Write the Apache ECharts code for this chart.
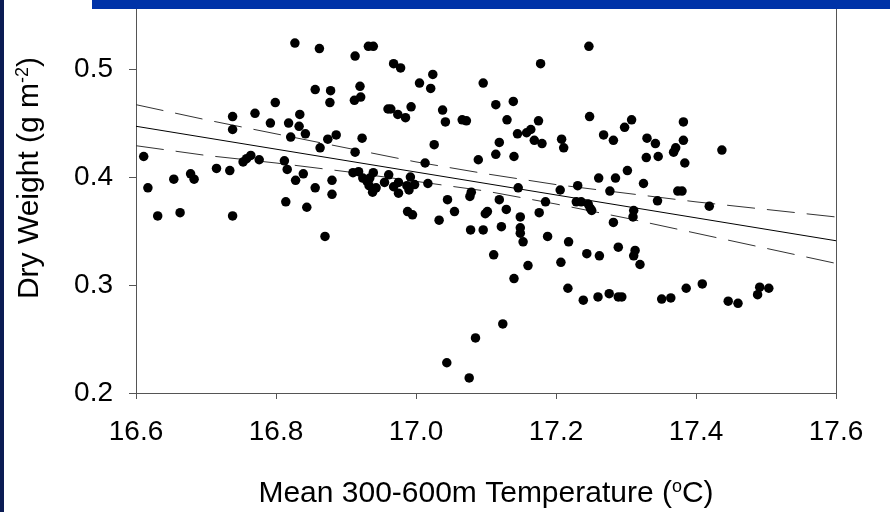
<!DOCTYPE html>
<html><head><meta charset="utf-8">
<script src="https://cdn.jsdelivr.net/npm/echarts@6/dist/echarts.min.js"></script>
<style>html,body{margin:0;padding:0;background:#fff}#c{width:890px;height:512px}</style>
</head><body><div id="c"></div>
<script>
// Scatter data: mean 300-600 m temperature (°C) vs dry weight (g m-2)
const tempC = [
 16.611,16.617,16.631,16.663,16.654,16.678,16.683,16.715,16.734,16.738,16.738,16.738,16.753,16.758,16.764,16.776,16.770,16.792,16.799,16.812,16.816,16.814,16.827,16.818,16.821,16.828,16.833,16.834,16.839,16.842,16.844,16.856,16.862,16.856,16.863,16.874,16.878,16.877,16.886,16.880,16.880,16.870,
 16.913,16.932,16.939,16.968,16.978,17.024,17.005,17.021,16.920,16.912,16.921,16.960,16.964,16.974,16.985,16.993,17.038,17.042,17.066,17.072,17.096,17.114,17.139,17.130,17.178,17.247,17.248,17.175,17.145,17.158,17.164,17.169,17.180,17.208,17.211,16.923,16.913,17.026,17.013,17.089,17.119,17.114,17.140,
 16.910,16.918,16.924,16.930,16.934,16.939,16.933,16.943,16.938,16.955,16.961,16.968,16.975,16.975,16.987,16.990,16.998,16.992,17.017,17.045,17.055,16.988,16.995,17.033,17.077,17.079,17.099,17.102,17.119,17.129,17.146,17.149,17.176,17.185,17.206,17.231,17.229,17.236,17.246,17.249,17.251,17.261,17.078,17.096,17.122,17.149,17.149,17.153,17.111,17.160,17.140,17.188,17.218,17.207,17.244,17.262,17.217,17.239,17.260,17.124,17.085,17.044,17.076,
 17.308,17.298,17.268,17.282,17.382,17.330,17.342,17.368,17.371,17.382,17.329,17.346,17.384,17.437,17.302,17.285,17.325,17.277,17.374,17.380,17.345,17.419,17.311,17.310,17.282,17.289,17.313,17.311,17.320,17.276,17.289,17.294,17.351,17.364,17.386,17.409,17.446,17.460,17.488,17.491,17.504
];
const dryWeight = [
 0.419,0.390,0.364,0.367,0.398,0.403,0.398,0.408,0.406,0.456,0.444,0.364,0.414,0.417,0.420,0.416,0.459,0.450,0.469,0.415,0.407,0.377,0.524,0.450,0.437,0.397,0.447,0.458,0.403,0.440,0.372,0.481,0.519,0.390,0.427,0.435,0.480,0.469,0.439,0.397,0.384,0.345,
 0.512,0.521,0.521,0.505,0.501,0.495,0.487,0.482,0.484,0.471,0.474,0.463,0.463,0.458,0.455,0.465,0.462,0.451,0.453,0.452,0.487,0.467,0.470,0.453,0.505,0.521,0.456,0.452,0.440,0.441,0.444,0.434,0.431,0.435,0.427,0.436,0.423,0.430,0.413,0.416,0.432,0.421,0.419,
 0.404,0.405,0.399,0.396,0.399,0.404,0.392,0.390,0.386,0.395,0.402,0.391,0.395,0.385,0.392,0.388,0.393,0.400,0.394,0.379,0.368,0.368,0.365,0.360,0.382,0.386,0.366,0.368,0.379,0.370,0.390,0.363,0.367,0.377,0.388,0.392,0.377,0.377,0.375,0.371,0.369,0.399,0.351,0.351,0.354,0.353,0.348,0.340,0.328,0.318,0.306,0.345,0.340,0.321,0.329,0.327,0.297,0.286,0.289,0.264,0.251,0.228,0.214,
 0.453,0.446,0.439,0.434,0.451,0.436,0.431,0.423,0.427,0.434,0.418,0.419,0.413,0.425,0.406,0.399,0.394,0.387,0.387,0.387,0.378,0.373,0.369,0.363,0.358,0.335,0.332,0.327,0.319,0.292,0.289,0.289,0.287,0.288,0.297,0.301,0.285,0.283,0.291,0.298,0.297
];
// Regression line and confidence band
const fitX = [16.6, 17.6];
const fitY = [0.447, 0.341];
const bandX = [16.6,16.7,16.8,16.9,17.0,17.1,17.2,17.3,17.4,17.5,17.6];
const upperY = [0.467,0.453,0.440,0.427,0.414,0.403,0.393,0.385,0.377,0.370,0.363];
const lowerY = [0.429,0.420,0.413,0.405,0.396,0.387,0.375,0.362,0.348,0.334,0.320];
// Axis ticks
const xTicks = [16.6,16.8,17.0,17.2,17.4,17.6];
const yTicks = [0.2,0.3,0.4,0.5];

const FONT = '"Liberation Sans", Arial, sans-serif';
const chart = echarts.init(document.getElementById('c'));
const pts = tempC.map((x,i)=>[x, dryWeight[i]]);
const pair = (xs, ys) => xs.map((x,i)=>[x, ys[i]]);
const axisCol = '#555';
chart.setOption({
  animation:false,
  backgroundColor:'#ffffff',
  grid:{left:136, top:9, width:700, height:384, containLabel:false, outerBoundsMode:'none'},
  xAxis:{
    type:'value', min:16.6, max:17.6, interval:0.2,
    axisLine:{show:true, onZero:false, lineStyle:{color:axisCol, width:1}},
    axisTick:{show:true, length:6, lineStyle:{color:axisCol}},
    axisLabel:{margin:25, fontSize:28, fontFamily:FONT, color:'#000', formatter:v=>v.toFixed(1)},
    splitLine:{show:false},
    name:'{a|Mean 300-600m Temperature (}{s|o}{a|C)}',
    nameLocation:'middle', nameGap:85,
    nameTextStyle:{rich:{
      a:{fontSize:30, fontFamily:FONT, color:'#000', lineHeight:32},
      s:{fontSize:18, fontFamily:FONT, color:'#000', verticalAlign:'top', lineHeight:32}
    }}
  },
  yAxis:[{
    type:'value', min:0.2, max:0.5556, interval:0.1,
    axisLine:{show:true, onZero:false, lineStyle:{color:axisCol, width:1}},
    axisTick:{show:true, length:7, customValues:yTicks, lineStyle:{color:axisCol}},
    axisLabel:{margin:23, fontSize:28, fontFamily:FONT, color:'#000', customValues:yTicks, formatter:v=>v.toFixed(1)},
    splitLine:{show:false}
  },{
    type:'value', position:'right', min:0.2, max:0.5556,
    axisLine:{show:true, onZero:false, lineStyle:{color:axisCol, width:1}},
    axisTick:{show:false}, axisLabel:{show:false}, splitLine:{show:false}
  }],
  series:[
    {type:'line', data:pair(bandX, upperY), symbol:'none', silent:true, z:2,
     lineStyle:{color:'#333', width:1, type:[28,12]}},
    {type:'line', data:pair(bandX, lowerY), symbol:'none', silent:true, z:2,
     lineStyle:{color:'#333', width:1, type:[28,12]}},
    {type:'line', data:pair(fitX, fitY), symbol:'none', silent:true, z:2,
     lineStyle:{color:'#000', width:1}},
    {type:'scatter', data:pts, symbol:'circle', symbolSize:9.5, z:3,
     itemStyle:{color:'#000', opacity:1}}
  ],
  graphic:[
    {type:'rect', shape:{x:0, y:0, width:4, height:512}, style:{fill:'#0b1c54'}, z:100},
    {type:'rect', shape:{x:92, y:0, width:798, height:9}, style:{fill:'#0033a8'}, z:100},
    {type:'text', x:30, y:178, rotation:Math.PI/2, z:100,
     style:{text:'{a|Dry Weight (g m}{s|-2}{a|)}', align:'center', verticalAlign:'middle',
       rich:{
         a:{fontSize:30, fontFamily:FONT, fill:'#000', lineHeight:32},
         s:{fontSize:18, fontFamily:FONT, fill:'#000', verticalAlign:'top', lineHeight:32}
       }}}
  ]
});
</script></body></html>
